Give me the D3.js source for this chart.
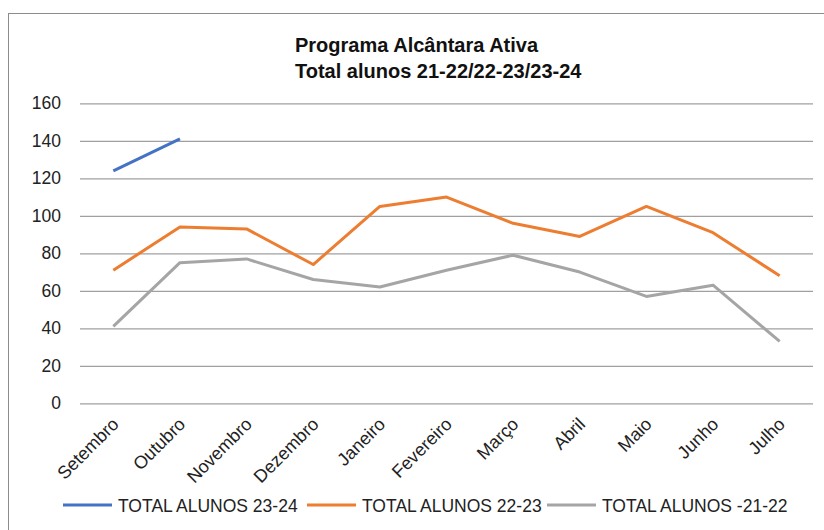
<!DOCTYPE html>
<html lang="pt">
<head>
<meta charset="UTF-8">
<title>Programa Alcântara Ativa</title>
<script src="https://cdn.jsdelivr.net/npm/d3@7"></script>
<style>
  body { margin: 0; background: #fff; }
  svg { font-family: "Liberation Sans", Arial, sans-serif; }
</style>
</head>
<body>
<svg id="chart" width="824" height="530"></svg>
<script>
const months = ["Setembro", "Outubro", "Novembro", "Dezembro", "Janeiro", "Fevereiro",
  "Março", "Abril", "Maio", "Junho", "Julho"];
const alunos2324 = [124, 141];
const alunos2223 = [71, 94, 93, 74, 105, 110, 96, 89, 105, 91, 68];
const alunos2122 = [41, 75, 77, 66, 62, 71, 79, 70, 57, 63, 33];
const yTicks = [0, 20, 40, 60, 80, 100, 120, 140, 160];

const series = [
  { name: "TOTAL ALUNOS 23-24", values: alunos2324, color: "#4472C4" },
  { name: "TOTAL ALUNOS 22-23", values: alunos2223, color: "#ED7D31" },
  { name: "TOTAL ALUNOS -21-22", values: alunos2122, color: "#A5A5A5" }
];

const svg = d3.select("#chart");
const plotLeft = 80, plotRight = 813, plotTop = 103.3, plotBottom = 403.3;

// chart frame
svg.append("rect")
  .attr("x", 8.5).attr("y", 13.5)
  .attr("width", 830).attr("height", 530)
  .attr("fill", "none").attr("stroke", "#8c8c8c").attr("stroke-width", 1);

// title (both lines start at the same x, like the original)
svg.append("text")
  .attr("x", 295).attr("y", 52)
  .attr("font-size", 20).attr("font-weight", "bold").attr("fill", "#111")
  .text("Programa Alcântara Ativa");
svg.append("text")
  .attr("x", 295).attr("y", 78)
  .attr("font-size", 20).attr("font-weight", "bold").attr("fill", "#111")
  .text("Total alunos 21-22/22-23/23-24");

const x = d3.scalePoint().domain(months).range([plotLeft, plotRight]).padding(0.5);
const y = d3.scaleLinear().domain([0, 160]).range([plotBottom, plotTop]);

// gridlines + y labels
const yAxis = svg.append("g")
  .attr("transform", `translate(${plotLeft},0)`)
  .call(d3.axisLeft(y).tickValues(yTicks).tickSize(-(plotRight - plotLeft)).tickPadding(19));
yAxis.select(".domain").remove();
yAxis.selectAll(".tick line").attr("stroke", "#a0a0a0").attr("stroke-width", 1.2);
yAxis.selectAll(".tick text")
  .attr("font-size", 17.5).attr("fill", "#222")
  .attr("font-family", "Liberation Sans, Arial, sans-serif");

// x labels rotated
const xAxis = svg.append("g")
  .attr("transform", `translate(0,${plotBottom})`)
  .call(d3.axisBottom(x).tickSize(0).tickPadding(0));
xAxis.select(".domain").remove();
xAxis.selectAll(".tick text")
  .attr("font-size", 18).attr("fill", "#222")
  .attr("font-family", "Liberation Sans, Arial, sans-serif")
  .attr("text-anchor", "end")
  .attr("dy", null)
  .attr("y", 0)
  .attr("transform", "translate(6,22) rotate(-45)");

// lines
const line = d3.line()
  .x((d, i) => x(months[i]))
  .y(d => y(d));

svg.selectAll(".serie")
  .data(series)
  .join("path")
    .attr("class", "serie")
    .attr("d", d => line(d.values))
    .attr("fill", "none")
    .attr("stroke", d => d.color)
    .attr("stroke-width", 3)
    .attr("stroke-linejoin", "round");

// legend
const legendX = [63, 307, 547];
const lg = svg.selectAll(".legend")
  .data(series)
  .join("g")
    .attr("class", "legend")
    .attr("transform", (d, i) => `translate(${legendX[i]},505)`);
lg.append("line")
  .attr("x1", 0).attr("x2", 49)
  .attr("stroke", d => d.color).attr("stroke-width", 3);
lg.append("text")
  .attr("x", 55).attr("y", 6.5)
  .attr("font-size", 17.5).attr("fill", "#222")
  .text(d => d.name);
</script>
</body>
</html>
